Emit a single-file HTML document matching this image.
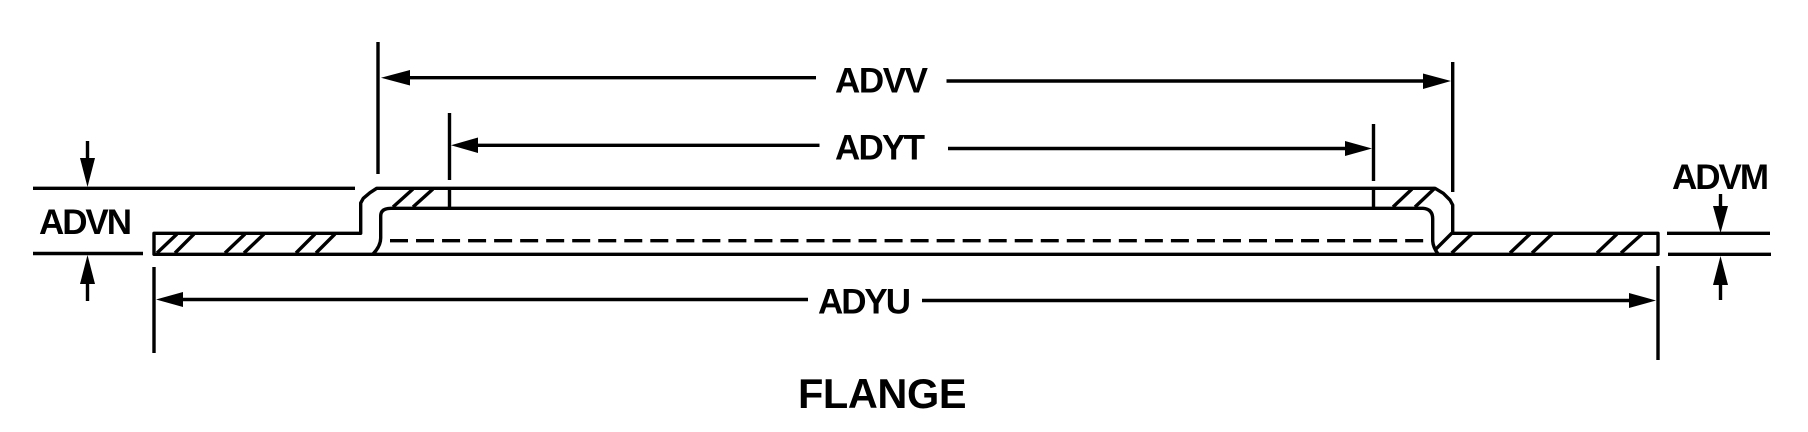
<!DOCTYPE html>
<html>
<head>
<meta charset="utf-8">
<title>FLANGE</title>
<style>
html,body{margin:0;padding:0;background:#fff}
svg{display:block}
text{font-family:"Liberation Sans",Arial,sans-serif;font-weight:bold;fill:#000}
</style>
</head>
<body>
<svg width="1808" height="432" viewBox="0 0 1808 432" xmlns="http://www.w3.org/2000/svg">
<rect width="1808" height="432" fill="#fff"/>
<g fill="none" stroke="#000" stroke-width="3.4">
  <!-- Outer outline -->
  <path d="M154 254.3V233.3H360.7V203L363.3 198.3L370 192.7L376.7 188.3H1435L1443.3 193.3L1450 200L1452.7 205V233.3H1658V254.3H154Z" stroke-linejoin="round"/>
  <path d="M1452 233L1435 250"/>
  <!-- Inner outline -->
  <path d="M373 254Q380.7 246 380.7 238V216Q380.7 208.3 391 208.3H1423Q1432.7 209 1432.7 219V241Q1433 247 1438 254"/>
  <!-- Dashed hidden line -->
  <path d="M390 240.7H1423.3" stroke-dasharray="18 8.03"/>
  <!-- Section verticals -->
  <path d="M449.5 188V208M1373.5 188V208"/>
  <!-- Hatching -->
  <path d="M157 253L177 234M175 253L194 234M225 253L245 234M244 253L264 234M296 253L315 234M316 253L335 234"/>
  <path d="M393 207L413 189M413 207L433 189M1393 207L1412 189M1415 207L1435 188"/>
  <path d="M1451.7 253L1471.7 234M1510 253L1530 234M1532 253L1552 234M1597 253L1617 234M1621 253L1642 234"/>
  <!-- Extension lines -->
  <path d="M378 42V174M449.5 113V180M1373.5 124V181M1452.7 62V192M154 267V353M1658 266V360"/>
  <!-- ADVN -->
  <path d="M33 188.3H355M33 253.5H143M87.5 141V165M87.5 275V301"/>
  <!-- ADVM -->
  <path d="M1667 233.3H1770M1668 254.3H1771M1720.5 194V212M1720.5 278V300"/>
  <!-- Dimension lines -->
  <path d="M400 77.7H816M946.5 81H1430"/>
  <path d="M470 145.3H819.5M948 148.5H1350"/>
  <path d="M175 299.5H808M922 300.5H1635"/>
</g>
<g fill="#000" stroke="none">
  <!-- ADVV arrows -->
  <polygon points="381,77.7 410,70 410,85.5"/>
  <polygon points="1451,81 1423,73.5 1423,89"/>
  <!-- ADYT arrows -->
  <polygon points="451,145.3 478,137.5 478,153"/>
  <polygon points="1372,148.5 1345,141 1345,156"/>
  <!-- ADYU arrows -->
  <polygon points="156,299.5 183,292 183,307"/>
  <polygon points="1656,300.5 1629,293 1629,308"/>
  <!-- ADVN arrows -->
  <polygon points="87.5,187 80,158 95,158"/>
  <polygon points="87.5,255 80,284 95,284"/>
  <!-- ADVM arrows -->
  <polygon points="1720.5,233 1713,206 1728,206"/>
  <polygon points="1720.5,256 1713,285 1728,285"/>
</g>
<text x="39" y="234" font-size="35" textLength="93" lengthAdjust="spacing">ADVN</text>
<text x="835" y="92.3" font-size="35" textLength="93" lengthAdjust="spacing">ADVV</text>
<text x="835" y="159.3" font-size="35" textLength="90" lengthAdjust="spacing">ADYT</text>
<text x="818" y="313.5" font-size="35" textLength="93" lengthAdjust="spacing">ADYU</text>
<text x="1672" y="189" font-size="35" textLength="97" lengthAdjust="spacing">ADVM</text>
<text x="798" y="408" font-size="41.5" textLength="168.5" lengthAdjust="spacing">FLANGE</text>
</svg>
</body>
</html>
